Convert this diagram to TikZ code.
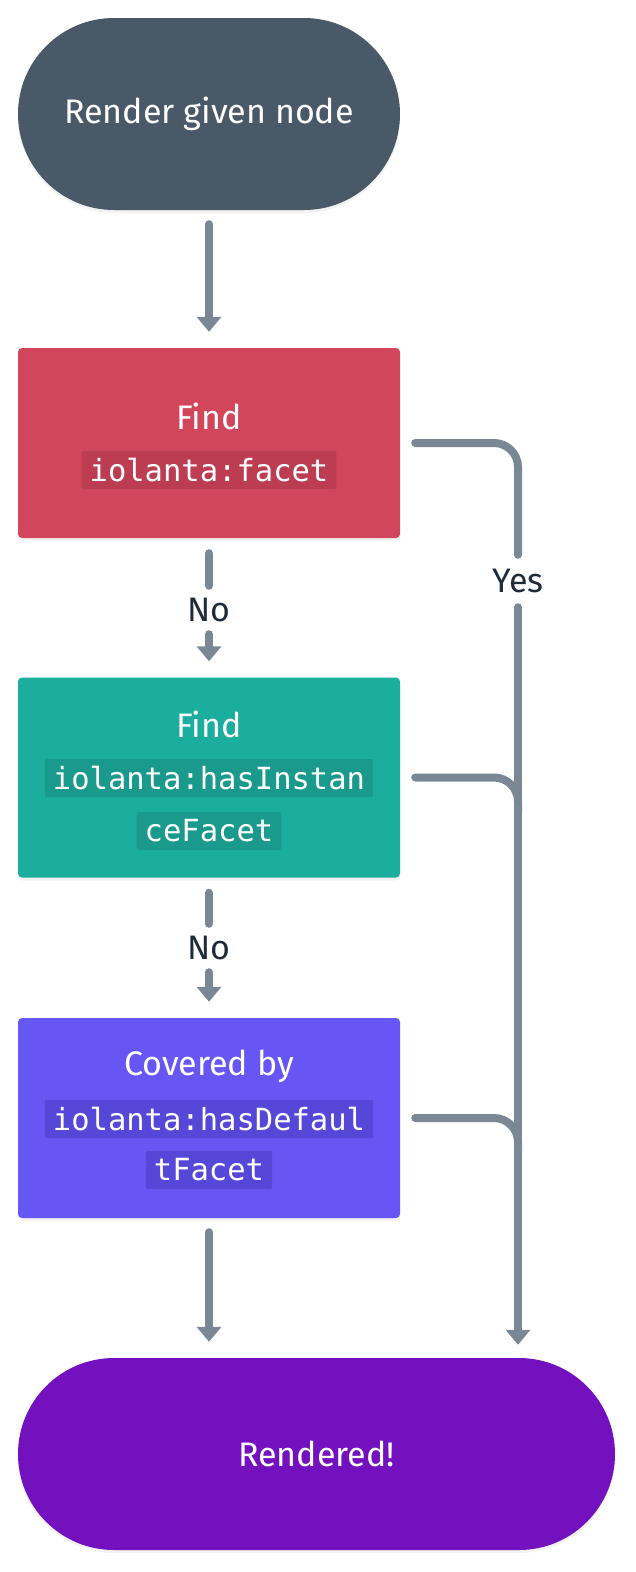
\documentclass[tikz,border=0pt]{standalone}
\usepackage{fontspec}
\setmainfont{Fira Sans}
\setmonofont{DejaVu Sans Mono}
\usepackage{tikz}
\usepackage{xcolor}
\usetikzlibrary{positioning,arrows.meta,shapes,shapes.misc,shadows}

\definecolor{startgray}{HTML}{4A5968}
\definecolor{findred}{HTML}{D2465B}
\definecolor{findredcode}{HTML}{BC3D51}
\definecolor{findteal}{HTML}{1BAE9E}
\definecolor{findtealcode}{HTML}{1A9A8C}
\definecolor{coverblue}{HTML}{6657F4}
\definecolor{coverbluecode}{HTML}{5547D8}
\definecolor{endpurple}{HTML}{7311BF}
\definecolor{flowgray}{HTML}{7A8896}
\definecolor{labelink}{HTML}{1E2B38}

\begin{document}
\begin{tikzpicture}[x=1pt,y=-1pt,
	boxfont/.style={font=\fontsize{34pt}{40pt}\selectfont},
	terminal/.style={rounded rectangle,boxfont,text=white,inner sep=0pt,minimum height=192pt,
		drop shadow={opacity=0.10,shadow xshift=0pt,shadow yshift=-3pt}},
	stepbox/.style={rectangle,rounded corners=4pt,inner sep=0pt,minimum width=382pt,minimum height=200pt,
		drop shadow={opacity=0.10,shadow xshift=0pt,shadow yshift=-3pt}},
	steptext/.style={boxfont,text=white,inner sep=0pt},
	codechip/.style={rectangle,rounded corners=2pt,text=white,inner xsep=8pt,inner ysep=0pt,
		minimum height=38pt,font=\fontsize{30.5pt}{36pt}\ttfamily},
	flowlabel/.style={boxfont,text=labelink,inner sep=0pt,minimum height=48pt},
	flow/.style={draw=flowgray,line width=8pt,line cap=round},
	flowarrow/.style={flow,-{Triangle[width=24pt,length=15pt]}}]
	\useasboundingbox (0,0) rectangle (636,1572);
	% Start
	\node[terminal,fill=startgray,minimum width=382pt] (start) at (209,114) {Render given node};
	% Find iolanta:facet
	\node[stepbox,fill=findred,minimum height=190pt] (red) at (209,443) {};
	\node[steptext] (redtitle) at (209,416) {Find};
	\node[codechip,fill=findredcode] (redcode) at (209,470) {iolanta:facet};
	% Find iolanta:hasInstanceFacet
	\node[stepbox,fill=findteal] (teal) at (209,777.5) {};
	\node[steptext] (tealtitle) at (209,724) {Find};
	\node[codechip,fill=findtealcode] (tealcode1) at (209,778) {iolanta:hasInstan};
	\node[codechip,fill=findtealcode] (tealcode2) at (209,831) {ceFacet};
	% Covered by iolanta:hasDefaultFacet
	\node[stepbox,fill=coverblue] (blue) at (209,1118) {};
	\node[steptext] (bluetitle) at (209,1066) {Covered by};
	\node[codechip,fill=coverbluecode] (bluecode1) at (209,1119) {iolanta:hasDefaul};
	\node[codechip,fill=coverbluecode] (bluecode2) at (209,1170) {tFacet};
	% End
	\node[terminal,fill=endpurple,minimum width=597pt] (end) at (316.5,1454) {Rendered!};
	% Labels
	\node[flowlabel] (no1) at (209,610) {No};
	\node[flowlabel] (no2) at (209,948) {No};
	\node[flowlabel,minimum height=52pt] (yes) at (518,581) {Yes};
	\coordinate []  (tealjoin) at (518,812) ;
	\coordinate []  (bluejoin) at (518,1152) ;
	% Main flow
	\draw[flowarrow,shorten <=14pt,shorten >=16pt] (start.south) -- (red.north);
	\draw[flow,shorten <=15pt] (red.south) -- (no1.north);
	\draw[flowarrow,shorten >=16pt] (no1.south) -- (teal.north);
	\draw[flow,shorten <=15pt] (teal.south) -- (no2.north);
	\draw[flowarrow,shorten >=16pt] (no2.south) -- (blue.north);
	\draw[flowarrow,shorten <=14pt,shorten >=16pt] (blue.south) -- (blue.south |- end.north);
	% Yes branch
	\draw[flow,rounded corners=24pt] ([xshift=15pt]red.east) -| (yes.north);
	\draw[flowarrow,shorten >=13pt] (yes.south) -- (yes.south |- end.north);
	\draw[flow,rounded corners=24pt] ([xshift=15pt]teal.east) -| (tealjoin);
	\draw[flow,rounded corners=24pt] ([xshift=15pt]blue.east) -| (bluejoin);
\end{tikzpicture}
\end{document}
